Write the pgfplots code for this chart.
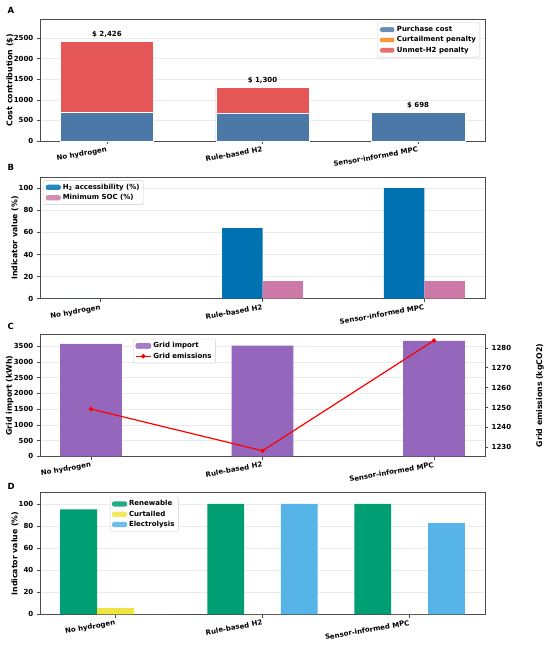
\documentclass[border=0pt]{standalone}
\usepackage{fontspec}
\setmainfont{DejaVu Sans Bold}
\usepackage{pgfplots}
\pgfplotsset{compat=1.18}
\definecolor{cAa}{HTML}{4C78A8}
\definecolor{cAb}{HTML}{F58518}
\definecolor{cAc}{HTML}{E45756}
\definecolor{cBa}{HTML}{0072B2}
\definecolor{cBb}{HTML}{CC79A7}
\definecolor{cC}{HTML}{9467BD}
\definecolor{cDa}{HTML}{009E73}
\definecolor{cDb}{HTML}{F0E442}
\definecolor{cDc}{HTML}{56B4E9}
\newcommand{\sz}{\fontsize{7}{8}\selectfont}
\newcommand{\lz}{\fontsize{7.8}{9}\selectfont}
\pgfplotsset{
 common/.style={
  scale only axis, width=445pt, height=121.5pt, anchor=south west,
  axis line style={draw=black!70, line width=0.8pt},
  every tick/.style={draw=black!70, line width=0.6pt},
  tick align=outside, major tick length=3.2pt,
  tick label style={font=\sz},
  label style={font=\lz},
  /pgf/number format/assume math mode=true,
  /pgf/number format/1000 sep={},
  legend style={font=\sz, draw=black!20, rounded corners=2pt, inner xsep=2pt, inner ysep=1.5pt, row sep=-0.5pt, fill=white, fill opacity=0.85, text opacity=1},
  legend cell align=left,
 },
 panel/.style={
  common,
  tick pos=left,
  xtick={0,1,2}, xticklabels={No hydrogen,Rule-based H2,Sensor-informed MPC},
  xticklabel style={rotate=10, anchor=north east, inner sep=1pt, yshift=-1pt},
  ymajorgrids, grid style={draw=black!8, line width=0.5pt},
  ylabel style={yshift=-6.5pt},
 },
}
\begin{document}
\begin{tikzpicture}[x=1pt,y=1pt]
\useasboundingbox (0,0) rectangle (550,-645);
\node[anchor=base west, font=\fontsize{8.5}{10}\selectfont] at (4,-13) {A};
\node[anchor=base west, font=\fontsize{8.5}{10}\selectfont] at (4,-170) {B};
\node[anchor=base west, font=\fontsize{8.5}{10}\selectfont] at (4,-329) {C};
\node[anchor=base west, font=\fontsize{8.5}{10}\selectfont] at (4,-489) {D};

% Panel A
\begin{axis}[panel, at={(40pt,-141pt)}, ybar stacked, bar width=0.6,
  xmin=-0.43, xmax=2.43, ymin=0, ymax=2950, ytick={0,500,...,2500},
  ylabel={Cost contribution (\$)},
  legend style={at={(0.989,0.975)}, anchor=north east},
  legend image code/.code={\fill[#1] (0pt,-2.6pt) rectangle (15pt,2.6pt);}]
\addplot[fill=cAa, draw=white, line width=0.4pt] coordinates {(0,690) (1,670) (2,698)};
\addlegendentry{Purchase cost}
\addplot[fill=cAb, draw=white, line width=0.4pt] coordinates {(0,0) (1,0) (2,0)};
\addlegendentry{Curtailment penalty}
\addplot[fill=cAc, draw=white, line width=0.4pt] coordinates {(0,1736) (1,630) (2,0)};
\addlegendentry{Unmet-H2 penalty}
\node[anchor=base, font=\sz, yshift=4.5pt] at (axis cs:0,2426) {\$ 2,426};
\node[anchor=base, font=\sz, yshift=4.5pt] at (axis cs:1,1300) {\$ 1,300};
\node[anchor=base, font=\sz, yshift=4.5pt] at (axis cs:2,698) {\$ 698};
\end{axis}

% Panel B
\begin{axis}[panel, at={(40pt,-298.7pt)}, ybar, bar width=0.25,
  xmin=-0.375, xmax=2.375, ymin=0, ymax=110, ytick={0,20,...,100},
  ylabel={Indicator value (\%)},
  legend style={at={(0.008,0.975)}, anchor=north west},
  legend image code/.code={\fill[#1] (0pt,-2.6pt) rectangle (15pt,2.6pt);}]
\addplot[fill=cBa, draw=none, bar shift=-0.125] coordinates {(0,0) (1,64) (2,100)};
\addlegendentry{H\textsubscript{2} accessibility (\%)}
\addplot[fill=cBb, draw=none, bar shift=0.125] coordinates {(0,0) (1,16) (2,16)};
\addlegendentry{Minimum SOC (\%)}
\end{axis}

% Panel C
\begin{axis}[panel, at={(40pt,-456.3pt)}, ybar, bar width=0.36,
  xmin=-0.298, xmax=2.298, ymin=0, ymax=3860, ytick={0,500,...,3500},
  ylabel={Grid import (kWh)}]
\addplot[fill=cC, draw=none] coordinates {(0,3570) (1,3520) (2,3665)};
\end{axis}
\begin{axis}[common, at={(40pt,-456.3pt)},
  xmin=-0.298, xmax=2.298, ymin=1225.4, ymax=1286.6,
  axis y line*=right, axis x line=none,
  ytick={1230,1240,...,1280},
  ylabel={Grid emissions (kgCO2)},
  ylabel style={yshift=-18pt},
  legend style={at={(0.209,0.967)}, anchor=north west},
  legend image code/.code={\draw[mark repeat=2, mark phase=2, #1] plot coordinates {(0pt,0pt) (7.5pt,0pt) (15pt,0pt)};}]
\addlegendimage{legend image code/.code={\fill[cC] (0pt,-2.6pt) rectangle (15pt,2.6pt);}}
\addlegendentry{Grid import}
\addplot[red, line width=1.2pt, mark=*, mark size=1.6pt] coordinates {(0,1249.2) (1,1228.2) (2,1283.7)};
\addlegendentry{Grid emissions}
\end{axis}

% Panel D
\begin{axis}[panel, at={(40pt,-614.3pt)}, ybar, bar width=0.25,
  xmin=-0.5125, xmax=2.5125, ymin=0, ymax=110, ytick={0,20,...,100},
  ylabel={Indicator value (\%)},
  legend style={at={(0.157,0.967)}, anchor=north west},
  legend image code/.code={\fill[#1] (0pt,-2.6pt) rectangle (15pt,2.6pt);}]
\addplot[fill=cDa, draw=none, bar shift=-0.25] coordinates {(0,95) (1,100) (2,100)};
\addlegendentry{Renewable}
\addplot[fill=cDb, draw=none, bar shift=0] coordinates {(0,5.5) (1,0) (2,0)};
\addlegendentry{Curtailed}
\addplot[fill=cDc, draw=none, bar shift=0.25] coordinates {(0,0) (1,100) (2,82.5)};
\addlegendentry{Electrolysis}
\end{axis}
\end{tikzpicture}
\end{document}
